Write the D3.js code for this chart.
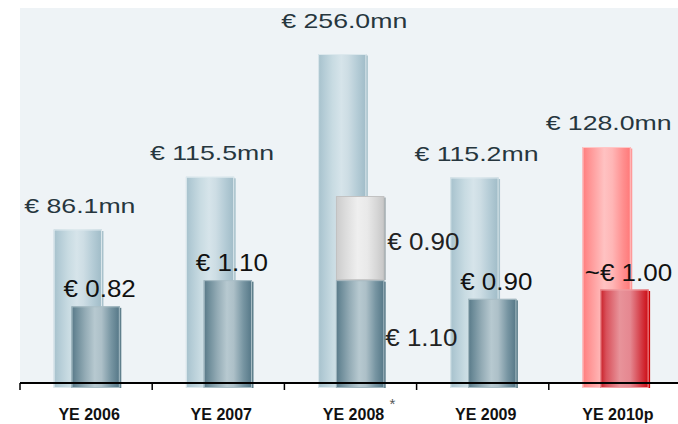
<!DOCTYPE html>
<html>
<head>
<meta charset="utf-8">
<script src="https://d3js.org/d3.v7.min.js"></script>
<style>
  body { margin: 0; background: #fff; }
  text { font-family: "Liberation Sans", Arial, sans-serif; }
</style>
</head>
<body>
<div id="chart"></div>
<script>
// data
var years = ["YE 2006", "YE 2007", "YE 2008", "YE 2009", "YE 2010p"];
var marketCap = [86.1, 115.5, 256.0, 115.2, 128.0];          // € mn
var marketCapLabels = ["€ 86.1mn", "€ 115.5mn", "€ 256.0mn", "€ 115.2mn", "€ 128.0mn"];
var dividend = [0.82, 1.10, 1.10, 0.90, 1.00];               // € per share
var specialDividend = [0, 0, 0.90, 0, 0];
var dividendLabels = ["€ 0.82", "€ 1.10", "€ 1.10", "€ 0.90", "~€ 1.00"];
var specialLabels = ["", "", "€ 0.90", "", ""];
var projected = [false, false, false, false, true];

var W = 678, H = 424;
var base = 383;

var svg = d3.select("#chart").append("svg")
    .attr("width", W).attr("height", H);

var defs = svg.append("defs");
function grad(id, stops) {
  var g = defs.append("linearGradient").attr("id", id)
      .attr("x1", "0%").attr("x2", "100%").attr("y1", "0%").attr("y2", "0%");
  stops.forEach(function (s) {
    g.append("stop").attr("offset", s[0] + "%").attr("stop-color", s[1]);
  });
}
grad("gBlue", [[0, "#a6c1cc"], [12, "#b4ccd6"], [30, "#c8dbe2"], [48, "#d6e4ea"], [62, "#cddde4"], [80, "#b6cdd7"], [100, "#9fbbc7"]]);
grad("gTeal", [[0, "#577887"], [10, "#6d8c99"], [28, "#93abb5"], [48, "#b7c9d0"], [62, "#adc0c8"], [82, "#7795a2"], [100, "#547686"]]);
grad("gGray", [[0, "#cbcbcb"], [20, "#dcdcdc"], [45, "#efefef"], [65, "#e9e9e9"], [85, "#d6d6d6"], [100, "#c6c6c6"]]);
grad("gRedL", [[0, "#ff7c7c"], [15, "#ff9595"], [45, "#ffc2c2"], [62, "#ffb6b6"], [85, "#ff8d8d"], [100, "#ff7878"]]);
grad("gRedD", [[0, "#c81e26"], [12, "#d8505a"], [40, "#e8939a"], [62, "#e58790"], [85, "#d43a44"], [100, "#cc0a12"]]);

// background panel
svg.append("rect").attr("x", 20).attr("y", 8)
    .attr("width", W - 20).attr("height", base - 8)
    .attr("fill", "#eef3f6");

var x = d3.scaleBand().domain(years).range([20, 681]);
var bw = x.bandwidth();

// the big bars are not drawn to a single linear scale in the picture
var yMn = d3.scaleLinear().domain([0, 115, 128, 256]).range([base, 178, 147, 54]);
var yDiv = d3.scaleLinear().domain([0, 2]).range([base, 196]);

var bigX = function (d) { return x(d) + bw * 0.255; };
var smallX = function (d) { return x(d) + bw * 0.39; };
var barW = bw * 0.365;

function bar(g, x0, yTop, yBot, fill, stroke, shadow) {
  g.append("rect").attr("x", x0 + 1.5).attr("y", yTop + 1.5)
      .attr("width", barW).attr("height", yBot - yTop + 3.5)
      .attr("fill", shadow);
  g.append("rect").attr("x", x0).attr("y", yTop)
      .attr("width", barW).attr("height", yBot - yTop + 5)
      .attr("fill", fill);
  g.append("rect").attr("x", x0 + 0.5).attr("y", yTop + 0.5)
      .attr("width", barW - 1).attr("height", yBot - yTop + 4)
      .attr("fill", "none").attr("stroke", stroke).attr("stroke-width", 1);
}

var bars = svg.append("g");
years.forEach(function (yr, i) {
  var red = projected[i];
  bar(bars, bigX(yr), yMn(marketCap[i]), base,
      red ? "url(#gRedL)" : "url(#gBlue)", red ? "#ffc6c6" : "#dce8ed", red ? "#ff9a9a" : "#a9c2cc");
});
years.forEach(function (yr, i) {
  var red = projected[i];
  var top = yDiv(dividend[i] + specialDividend[i]);
  if (specialDividend[i] > 0) {
    var mid = yDiv(dividend[i]);
    bar(bars, smallX(yr), mid, base, "url(#gTeal)", "#9fb5be", "#5f7f8c");
    bar(bars, smallX(yr), top, mid - 5, "url(#gGray)", "#c2c2c2", "#9fa9ad");
  } else {
    bar(bars, smallX(yr), top, base,
        red ? "url(#gRedD)" : "url(#gTeal)", red ? "#f2a0a4" : "#a9bec6", red ? "#cc0000" : "#5f7f8c");
  }
});

// axis
svg.append("line").attr("x1", 20).attr("x2", W).attr("y1", base).attr("y2", base)
    .attr("stroke", "#000").attr("stroke-width", 2);
svg.selectAll(".tick").data(years).enter().append("line")
    .attr("x1", function (d) { return x(d); }).attr("x2", function (d) { return x(d); })
    .attr("y1", base).attr("y2", base + 7)
    .attr("stroke", "#000").attr("stroke-width", 1.5);

svg.selectAll(".cat").data(years).enter().append("text")
    .attr("x", function (d) { return x(d) + bw / 2 + 3; })
    .attr("y", 420)
    .attr("text-anchor", "middle")
    .attr("font-size", 16).attr("font-weight", "bold").attr("fill", "#111")
    .text(function (d) { return d; });
svg.append("text").attr("x", x("YE 2008") + bw / 2 + 39).attr("y", 409)
    .attr("font-size", 15).attr("fill", "#555").text("*");

// market cap labels
function stretched(txt, px, py, size, sx, color, anchor) {
  svg.append("text")
      .attr("transform", "translate(" + px + "," + py + ") scale(" + sx + ",1)")
      .attr("text-anchor", anchor)
      .attr("font-size", size).attr("fill", color)
      .text(txt);
}
var maxCap = d3.max(marketCap);
years.forEach(function (yr, i) {
  var gap = marketCap[i] === maxCap ? 26 : 17;
  stretched(marketCapLabels[i], bigX(yr) + barW / 2 + 2, yMn(marketCap[i]) - gap,
      21, 1.27, "#26363e", "middle");
});

// dividend labels
years.forEach(function (yr, i) {
  if (specialDividend[i] > 0) {
    var mid = yDiv(dividend[i]);
    var top = yDiv(dividend[i] + specialDividend[i]);
    stretched(specialLabels[i], smallX(yr) + barW + 3, (top + mid) / 2 + 12, 23, 1.13, "#222", "start");
    stretched(dividendLabels[i], smallX(yr) + barW + 1, (mid + base) / 2 + 14, 23, 1.13, "#222", "start");
  } else {
    stretched(dividendLabels[i], smallX(yr) + barW / 2 + 4, yDiv(dividend[i]) - 9, 23, 1.13, "#111", "middle");
  }
});
</script>
</body>
</html>
